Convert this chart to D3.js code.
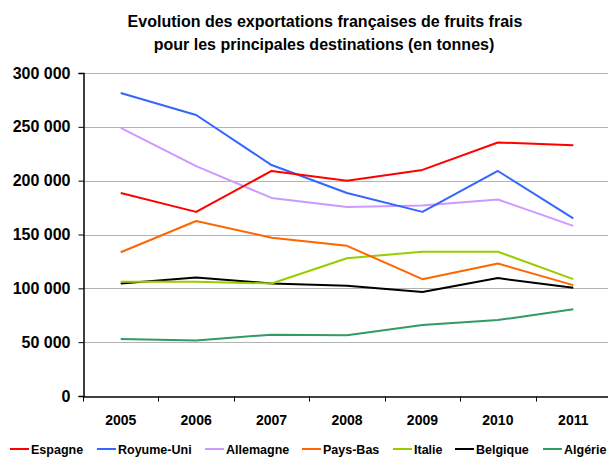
<!DOCTYPE html>
<html>
<head>
<meta charset="utf-8">
<script src="https://cdn.jsdelivr.net/npm/d3@7"></script>
<style>
  html, body { margin: 0; padding: 0; background: #fff; }
  svg { display: block; font-family: "Liberation Sans", Arial, sans-serif; }
</style>
</head>
<body>
<div id="chart"></div>
<script>
// data (tonnes)
const years = ['2005', '2006', '2007', '2008', '2009', '2010', '2011'];
const espagne = [188500, 171000, 209000, 200000, 210000, 235500, 233000];
const royaumeUni = [281500, 261000, 214500, 188500, 171000, 209000, 165000];
const allemagne = [249000, 213500, 184000, 175500, 177000, 182500, 158000];
const paysBas = [133500, 162500, 147000, 139500, 108500, 123000, 103000];
const italie = [106000, 106000, 104500, 128000, 134000, 134000, 108500];
const belgique = [104500, 110000, 104500, 102500, 96500, 109500, 100500];
const algerie = [53000, 51500, 57000, 56500, 66000, 70500, 80500];
const yTicks = [0, 50000, 100000, 150000, 200000, 250000, 300000];

const series = [
  { name: 'Espagne', values: espagne, color: '#ff0000' },
  { name: 'Royume-Uni', values: royaumeUni, color: '#3366ff' },
  { name: 'Allemagne', values: allemagne, color: '#cc99ff' },
  { name: 'Pays-Bas', values: paysBas, color: '#ff6600' },
  { name: 'Italie', values: italie, color: '#99cc00' },
  { name: 'Belgique', values: belgique, color: '#000000' },
  { name: 'Algérie', values: algerie, color: '#339966' }
];

const width = 608;
const height = 457;
const margin = { top: 73, left: 83, bottom: 61 };
const plotRight = 611;

const svg = d3.select('#chart')
  .append('svg')
  .attr('width', width)
  .attr('height', height);

// title
const title = svg.append('text')
  .attr('text-anchor', 'middle')
  .attr('font-weight', 'bold')
  .attr('font-size', 16)
  .attr('fill', '#000');
title.append('tspan').attr('x', 325).attr('y', 27)
  .text('Evolution des exportations françaises de fruits frais');
title.append('tspan').attr('x', 324).attr('y', 50)
  .text('pour les principales destinations (en tonnes)');

const x = d3.scaleBand()
  .domain(years)
  .range([margin.left, plotRight]);

const y = d3.scaleLinear()
  .domain([0, 300000])
  .range([height - margin.bottom, margin.top]);

// gridlines
svg.append('g')
  .selectAll('line')
  .data(yTicks.filter(d => d > 0))
  .enter().append('line')
  .attr('x1', margin.left)
  .attr('x2', plotRight)
  .attr('y1', d => Math.round(y(d)) + 0.5)
  .attr('y2', d => Math.round(y(d)) + 0.5)
  .attr('stroke', '#b3b3b3')
  .attr('stroke-width', 1);

// y axis
const fmt = d => d3.format(',')(d).replace(/,/g, ' ');
const yAxis = svg.append('g')
  .attr('transform', `translate(${margin.left + 0.5},0)`)
  .call(d3.axisLeft(y).tickValues(yTicks).tickFormat(fmt).tickSize(5).tickPadding(8));
yAxis.select('.domain').attr('stroke', '#000').attr('stroke-width', 1.5);
yAxis.selectAll('text')
  .attr('font-size', 16)
  .attr('font-weight', 'bold')
  .attr('fill', '#000')
  .attr('font-family', '"Liberation Sans", Arial, sans-serif');

// x axis
const xAxis = svg.append('g')
  .attr('transform', `translate(0,${Math.round(y(0)) + 0.5})`)
  .call(d3.axisBottom(x).tickSize(0).tickPadding(19));
xAxis.select('.domain').attr('stroke', '#000').attr('stroke-width', 1.5);
xAxis.selectAll('text')
  .attr('font-size', 14)
  .attr('font-weight', 'bold')
  .attr('fill', '#000')
  .attr('font-family', '"Liberation Sans", Arial, sans-serif');
// category separator ticks
xAxis.selectAll('.sep')
  .data(years)
  .enter().append('line')
  .attr('class', 'sep')
  .attr('x1', d => Math.round(x(d)) + 0.5)
  .attr('x2', d => Math.round(x(d)) + 0.5)
  .attr('y1', 0)
  .attr('y2', 5)
  .attr('stroke', '#000');

// lines
const line = d3.line()
  .x((d, i) => x(years[i]) + x.bandwidth() / 2)
  .y(d => y(d));

svg.append('g')
  .selectAll('path')
  .data(series.slice().reverse())
  .enter().append('path')
  .attr('d', d => line(d.values))
  .attr('fill', 'none')
  .attr('stroke', d => d.color)
  .attr('stroke-width', 2)
  .attr('stroke-linejoin', 'round');

// legend
const legendX = [10, 97, 205, 302, 393, 455, 543];
const legend = svg.append('g')
  .selectAll('g')
  .data(series)
  .enter().append('g')
  .attr('transform', (d, i) => `translate(${legendX[i]},449)`);
legend.append('line')
  .attr('x1', 0)
  .attr('x2', 19)
  .attr('stroke', d => d.color)
  .attr('stroke-width', 2);
legend.append('text')
  .attr('x', 21)
  .attr('y', 4.5)
  .attr('font-size', 12.5)
  .attr('font-weight', 'bold')
  .attr('fill', '#000')
  .text(d => d.name);
</script>
</body>
</html>
